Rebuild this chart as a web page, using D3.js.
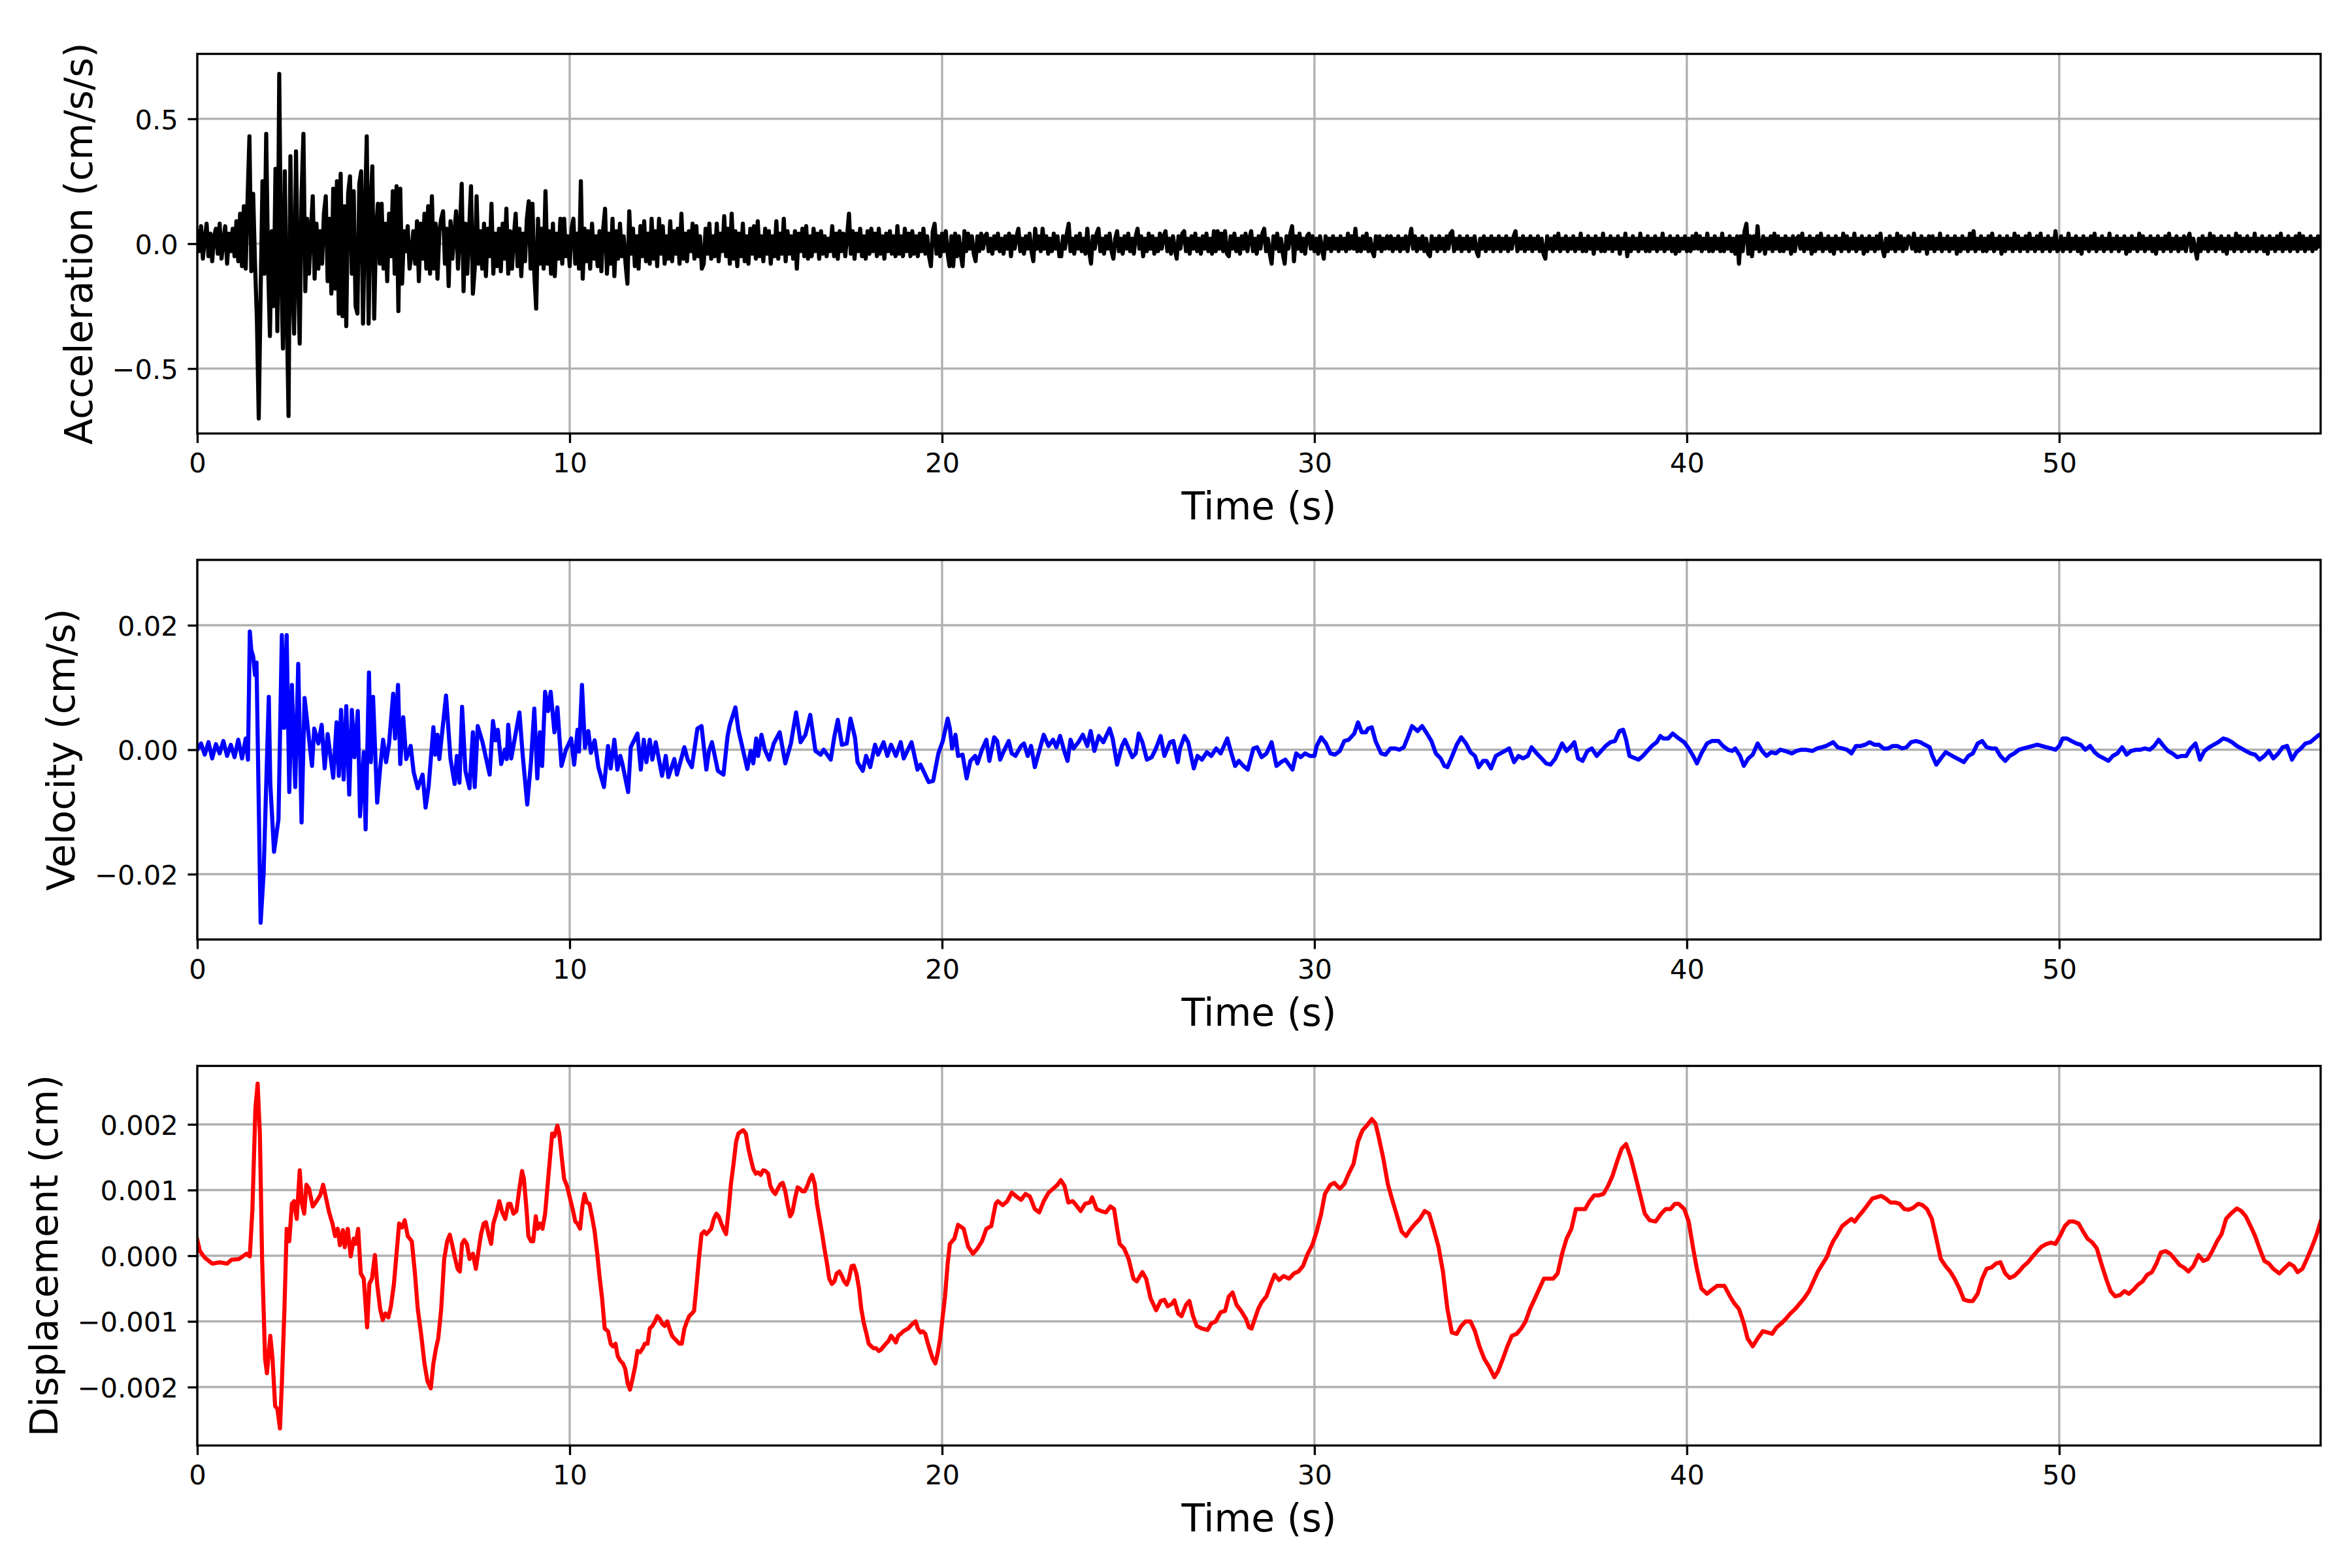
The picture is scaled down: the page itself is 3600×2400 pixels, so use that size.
<!DOCTYPE html>
<html>
<head>
<meta charset="utf-8">
<title>Acceleration, velocity and displacement records</title>
<script src="https://cdn.jsdelivr.net/npm/d3@7/dist/d3.min.js"></script>
<style>
  html, body { margin: 0; padding: 0; background: #fff; }
  svg text { font-family: "DejaVu Sans", sans-serif; fill: #000; }
</style>
</head>
<body>
<div id="chart"></div>
<script>
// ---- data ----

var X_MAX = 57.02;
var X_TICKS = [0, 10, 20, 30, 40, 50];

// acceleration, sampled every ACC_DT seconds, in units of 0.01 cm/s/s
var ACC_DT = 0.05;
var accValue = [
  5,-3,7,-6,2,8,-5,4,-7,3,6,-4,8,-6,1,7,-8,4,-3,6,
  -5,9,-7,12,-9,15,-10,18,43,-11,20,-8,-30,-70,-20,25,-12,44,-8,-37,
  5,-25,30,-35,68,-10,-42,29,-25,-69,35,-15,-36,37,-10,-40,20,44,-19,10,
  -12,5,19,-14,8,-10,5,-8,12,19,-15,10,-20,22,-18,25,-28,28,-29,15,
  -33,20,27,-12,21,-25,-28,24,29,-32,10,43,-32,15,31,-30,5,16,-8,16,
  -10,8,-15,12,-5,21,-12,23,-27,22,-16,5,-3,7,-10,-4,5,-8,9,-15,
  8,-6,12,-10,15,-12,19,-10,8,-14,5,10,13,-8,6,-17,9,-6,4,13,
  -10,5,24,-19,8,-12,6,23,-20,-10,19,-8,5,-10,8,-13,6,-5,16,-12,
  4,-9,6,-11,8,-6,14,-12,5,-10,3,12,-9,6,-13,4,-7,10,17,-10,
  16,-12,-26,10,-8,6,-10,21,-8,5,-12,8,-13,4,-6,10,-8,10,-5,3,
  -9,6,10,-8,4,-10,25,-14,6,-7,5,-10,8,-6,3,-9,5,-11,6,14,
  -12,4,-8,10,-13,5,-6,8,-5,3,-8,-16,13,-4,6,-9,3,-10,7,-5,
  9,-7,4,-8,10,-6,5,-9,10,-4,7,-8,3,-6,9,-7,5,-4,6,-8,
  12,-6,4,-7,5,-3,8,-6,7,-5,3,-10,-8,6,-4,8,-6,3,-5,8,
  -7,4,-3,11,-5,6,-8,12,-6,5,-9,4,-5,8,-7,3,-8,6,-4,7,
  -6,9,-5,3,-7,6,-4,5,-8,3,-5,9,-6,4,-4,10,-7,5,-4,3,
  -6,5,-10,4,-3,6,-5,7,-6,3,-5,6,-3,4,-6,5,-4,3,-5,2,
  -3,7,-5,4,-6,5,-3,4,-5,3,12,-4,5,-6,4,-3,6,-5,3,-6,
  5,-4,6,-3,4,-5,6,-4,3,-6,4,-3,5,-4,3,-5,7,-4,3,-5,
  6,-3,4,-5,5,-4,3,-5,4,-3,6,-4,3,-5,-9,5,8,-4,3,-5,
  4,-3,5,-4,-9,3,-9,4,-5,3,-4,-9,5,-3,4,-2,3,-4,-7,3,
  -3,4,-2,3,4,-3,2,-4,3,-2,4,-3,2,-4,3,-2,4,-5,3,-2,
  3,6,-3,2,-4,3,-2,4,-3,-7,6,-2,3,-3,6,-2,3,-4,2,-3,
  4,-2,3,-5,-5,3,-2,4,8,-3,2,-4,3,-2,4,-3,2,-4,6,-3,
  -8,3,-2,4,6,-3,2,-4,3,-2,4,-3,-6,2,5,-3,2,-4,3,-2,
  4,-3,2,-4,3,6,-2,3,-5,2,-3,4,-2,3,-4,2,-3,4,-2,3,
  5,-3,2,-4,3,-2,-6,3,-2,4,5,-3,2,-4,3,-2,4,-3,2,-4,
  3,-2,4,-3,2,-4,5,-3,5,-2,4,-3,5,-4,-5,3,-2,4,-3,2,
  -4,3,-2,4,-3,2,5,-3,2,-4,3,-2,4,6,-3,2,-4,-8,3,-2,
  4,-3,2,-4,-8,3,-2,4,7,-7,3,-2,4,-3,2,-4,3,4,-2,3,
  -3,2,-4,3,-2,-6,3,-2,2,-3,3,-2,2,-3,3,-2,2,-3,4,-2,
  3,-2,6,-3,2,-3,3,-2,4,-3,2,-3,-5,3,-2,3,-3,2,-2,3,
  -2,3,-3,2,-2,3,-3,2,-2,3,-3,2,6,-2,3,-3,2,-2,3,-3,
  2,-4,-5,3,-2,2,-3,3,-2,2,-3,3,-2,4,5,-3,2,-2,3,-3,
  2,-2,3,-3,2,-2,3,-3,-5,2,-2,3,-3,2,-2,3,-3,2,-2,3,
  -3,2,-2,3,-3,2,-2,3,5,-3,2,-2,3,-3,2,-2,3,-3,2,-2,
  3,-3,2,-4,-6,3,-2,2,-3,3,-2,4,-3,2,-2,3,-3,2,-2,3,
  -3,2,-2,4,-3,2,-3,3,-2,2,-4,3,-2,2,-3,4,-3,2,-2,3,
  -3,2,-2,3,-4,2,-2,4,-5,2,-3,3,-2,2,-3,4,-2,2,-3,3,
  -3,2,-2,3,-3,2,-2,4,-3,2,-2,3,-3,2,-4,3,-3,2,-2,3,
  -3,2,-3,3,-2,4,-2,3,-3,2,-2,4,-3,2,-3,3,-2,2,-3,4,
  -3,2,-2,3,-3,2,-4,3,-8,3,-3,5,8,-4,3,-5,3,-2,7,-3,
  -2,3,-4,2,-2,3,-3,4,-2,3,-3,2,-3,3,-2,2,-4,3,-3,2,
  3,-2,4,-3,2,-2,3,-4,2,-3,3,-2,4,-3,2,-2,3,-3,2,-4,
  3,-2,2,-3,4,-2,3,-3,2,-2,4,-3,2,-2,3,-4,2,-3,3,-2,
  2,-3,3,-2,4,-2,-5,2,-3,3,-2,2,-3,4,-2,3,-3,2,-2,3,
  2,-2,4,-3,2,-3,3,-2,2,-4,3,-2,3,-3,2,-2,4,-3,2,-2,
  3,-3,2,-2,3,-4,2,-3,3,-2,2,-3,4,-2,5,-3,2,-2,3,-3,
  2,-3,3,-2,4,-3,2,-2,3,-4,2,-3,3,-2,2,-3,4,-2,3,-3,
  2,-2,3,-3,4,-2,2,-3,3,-2,4,-3,2,-2,3,-3,2,-2,5,-3,
  -2,3,-3,2,-2,4,-3,2,-2,3,-3,2,-4,3,-2,2,-3,3,-2,4,
  -3,2,-2,3,-3,2,-2,4,-3,2,-2,3,-3,2,-2,3,-4,2,-3,3,
  -2,2,-3,4,-2,3,-3,2,-2,3,-3,2,-4,3,-2,2,-3,3,-2,4,
  -3,2,-2,3,-3,2,-2,3,-3,2,4,-3,2,-2,-6,2,-3,3,-2,2,
  -3,4,-2,3,-3,2,-2,3,-3,2,-4,3,-2,2,-3,4,-2,3,-3,2,
  -2,3,-3,2,-2,4,-3,2,-2,3,-3,2,-4,3,-2,2,-3,3,-2,4,
  -3,2,-2,3,-3,2,-2,3,-3,4,-2,3,-3,2,-2,3,-3,2,-2,3,
  -1
];
var accTicks = [-0.5, 0, 0.5];

// velocity, times in s and values in units of 0.0001 cm/s
var velTime = [
  0,0.1,0.2,0.3,0.4,0.5,0.6,0.7,0.8,0.9,
  1.0,1.1,1.2,1.3,1.36,1.41,1.45,1.5,1.55,1.59,
  1.7,1.78,1.92,1.96,2.06,2.18,2.27,2.33,2.4,2.47,
  2.54,2.63,2.71,2.8,2.88,3.08,3.14,3.25,3.34,3.42,
  3.5,3.65,3.74,3.8,3.86,3.93,4.0,4.08,4.15,4.22,
  4.31,4.37,4.47,4.52,4.61,4.66,4.72,4.83,4.91,4.99,
  5.07,5.15,5.26,5.31,5.39,5.45,5.53,5.61,5.73,5.81,
  5.92,6.05,6.13,6.21,6.34,6.39,6.45,6.5,6.68,6.8,
  6.91,6.97,7.04,7.11,7.2,7.31,7.4,7.45,7.53,7.66,
  7.85,7.94,8.01,8.07,8.16,8.26,8.31,8.35,8.43,8.49,
  8.65,8.74,8.86,8.96,9.05,9.13,9.2,9.26,9.34,9.42,
  9.49,9.59,9.67,9.78,9.9,10.04,10.12,10.21,10.25,10.33,
  10.41,10.5,10.57,10.67,10.77,10.92,11.03,11.1,11.2,11.28,
  11.36,11.42,11.57,11.64,11.82,11.91,11.99,12.06,12.15,12.22,
  12.31,12.48,12.58,12.65,12.81,12.88,13.08,13.17,13.28,13.43,
  13.54,13.67,13.74,13.82,13.98,14.13,14.24,14.3,14.45,14.53,
  14.77,14.86,14.93,15.01,15.06,15.15,15.24,15.36,15.48,15.64,
  15.79,15.94,16.08,16.2,16.33,16.46,16.6,16.74,16.82,17.01,
  17.11,17.2,17.31,17.44,17.54,17.66,17.73,17.87,17.96,18.07,
  18.2,18.28,18.43,18.53,18.63,18.76,18.89,18.97,19.18,19.34,
  19.42,19.64,19.76,19.9,20.02,20.15,20.21,20.27,20.36,20.43,
  20.55,20.66,20.76,20.89,20.95,21.07,21.19,21.27,21.4,21.48,
  21.56,21.63,21.79,21.87,21.97,22.12,22.2,22.3,22.39,22.49,
  22.61,22.73,22.86,22.98,23.07,23.17,23.29,23.37,23.45,23.53,
  23.66,23.78,23.9,23.99,24.09,24.21,24.33,24.5,24.58,24.7,
  24.83,24.91,25.01,25.11,25.2,25.28,25.38,25.5,25.63,25.73,
  25.87,25.97,26.12,26.21,26.33,26.39,26.51,26.61,26.76,26.86,
  26.98,27.11,27.23,27.36,27.48,27.66,27.75,27.87,27.97,28.09,
  28.21,28.36,28.46,28.58,28.71,28.85,28.98,29.1,29.22,29.41,
  29.51,29.63,29.75,29.88,30.0,30.06,30.18,30.31,30.43,30.55,
  30.68,30.8,30.92,31.07,31.17,31.27,31.38,31.44,31.54,31.64,
  31.79,31.91,32.04,32.16,32.28,32.4,32.52,32.62,32.77,32.89,
  33.02,33.14,33.26,33.39,33.49,33.57,33.7,33.82,33.94,34.07,
  34.19,34.31,34.41,34.53,34.62,34.74,34.87,34.99,35.11,35.23,
  35.36,35.48,35.6,35.73,35.83,35.97,36.1,36.22,36.34,36.47,
  36.65,36.77,36.9,36.98,37.08,37.2,37.33,37.45,37.58,37.7,
  37.82,37.95,38.07,38.19,38.29,38.37,38.46,38.62,38.7,38.82,
  38.94,39.06,39.19,39.29,39.37,39.5,39.62,39.74,39.93,40.05,
  40.17,40.27,40.39,40.54,40.67,40.85,40.97,41.1,41.22,41.3,
  41.43,41.53,41.65,41.77,41.9,42.02,42.14,42.27,42.39,42.51,
  42.64,42.82,42.94,43.07,43.19,43.37,43.5,43.62,43.74,43.93,
  44.05,44.17,44.3,44.42,44.54,44.67,44.79,44.91,45.04,45.16,
  45.28,45.41,45.53,45.65,45.78,45.9,46.02,46.15,46.27,46.39,
  46.52,46.58,46.7,46.82,46.95,47.07,47.19,47.32,47.44,47.56,
  47.68,47.81,47.93,48.05,48.18,48.3,48.42,48.55,48.67,48.79,
  48.92,49.04,49.16,49.29,49.41,49.53,49.66,49.78,49.9,50.0,
  50.09,50.21,50.33,50.46,50.58,50.7,50.83,50.95,51.07,51.2,
  51.32,51.44,51.56,51.69,51.81,51.93,52.06,52.18,52.3,52.43,
  52.55,52.67,52.8,52.92,53.04,53.17,53.29,53.41,53.53,53.66,
  53.78,53.9,54.03,54.15,54.27,54.4,54.52,54.64,54.77,54.89,
  55.01,55.14,55.26,55.38,55.51,55.63,55.75,55.88,56.0,56.12,
  56.25,56.37,56.49,56.61,56.74,56.86,56.98,57.02
];
var velValue = [
  0,10,-8,12,-14,9,-6,14,-10,8,
  -12,16,-14,18,-16,190,160,150,120,140,
  -278,-200,85,-54,-164,-112,184,35,184,-68,
  104,-60,138,-117,83,-26,34,10,40,-30,
  25,-45,44,-42,64,-48,70,-72,64,-12,
  62,-107,-4,-128,124,-20,85,-85,-30,16,
  -20,10,90,18,104,-23,52,-15,6,-36,
  -62,-40,-93,-60,36,-8,24,-15,87,-15,
  -55,-10,-53,69,-34,-62,28,-60,38,12,
  -40,46,15,32,-23,0,-15,40,-14,6,
  60,-10,-88,-20,66,-46,28,-26,93,62,
  93,28,68,-26,0,18,-24,32,-3,104,
  3,30,-5,15,-28,-60,6,-30,16,-32,
  -10,-24,-68,4,26,-32,16,-20,16,-16,
  12,-42,-10,-44,-15,-40,4,-16,-28,34,
  38,-32,-2,12,-34,-40,22,40,68,32,
  -31,-2,-22,18,-10,24,0,-16,10,28,
  -22,10,60,12,24,56,-2,-8,0,-16,
  22,48,8,10,50,20,-20,-34,-10,-28,
  8,-8,12,-10,8,-10,12,-14,12,-32,
  -24,-52,-50,-6,14,50,34,2,24,-10,
  -8,-46,-18,-10,-22,0,16,-18,20,14,
  -16,-6,14,-6,-10,6,10,-10,6,-28,
  -2,24,6,16,4,22,-4,-18,16,2,
  12,24,6,30,-2,22,12,34,18,-24,
  6,16,2,-12,-6,26,12,-16,-12,0,
  22,-10,12,14,-20,2,22,12,-30,-10,
  -16,-4,-10,2,-6,18,-2,-26,-18,-26,
  -32,2,4,-12,-6,12,-26,-20,-16,-32,
  -6,-12,-6,-10,-10,6,20,10,-6,-8,
  -2,14,16,26,44,28,28,34,36,14,
  -6,-8,2,2,0,4,22,38,30,38,
  26,14,-6,-14,-26,-28,-10,8,20,10,
  -4,-10,-28,-18,-18,-30,-10,-6,-2,2,
  -20,-10,-14,-10,4,-6,-14,-22,-24,-14,
  10,-2,6,12,-14,-18,-2,2,-10,-2,
  6,12,14,30,32,16,-10,-14,-16,-10,
  -2,6,12,22,18,18,26,20,12,2,
  -10,-22,-6,10,14,14,6,0,-2,2,
  -10,-26,-14,-8,10,-2,-10,-4,-6,0,
  -2,-6,-2,0,0,-2,2,4,6,12,
  4,2,0,-6,6,6,8,12,8,8,
  2,2,6,6,2,4,12,14,12,8,
  4,-8,-24,-14,-4,-8,-12,-16,-20,-10,
  -6,10,14,4,2,2,-10,-18,-10,-6,
  0,2,4,6,8,6,4,2,0,6,
  18,18,14,10,8,0,6,-4,-10,-14,
  -18,-10,-6,4,-8,-2,0,0,2,0,
  6,16,6,-2,-6,-12,-10,-10,2,10,
  -16,-2,4,8,12,18,16,12,6,2,
  -2,-6,-8,-16,-10,-2,-14,-6,4,6,
  -16,-4,2,10,12,18,24,24
];
var velTicks = [-0.02, 0, 0.02];

// displacement, times in s and values in units of 0.00001 cm
var dispTime = [
  0,0.07,0.2,0.4,0.6,0.8,0.92,1.12,1.32,1.41,
  1.48,1.56,1.62,1.68,1.74,1.82,1.87,1.96,2.02,2.09,
  2.15,2.22,2.27,2.34,2.4,2.47,2.54,2.6,2.67,2.75,
  2.81,2.87,2.93,3.0,3.1,3.2,3.3,3.38,3.46,3.54,
  3.63,3.7,3.77,3.83,3.91,3.96,4.04,4.12,4.2,4.25,
  4.32,4.39,4.47,4.56,4.62,4.69,4.77,4.83,4.91,4.98,
  5.05,5.13,5.2,5.28,5.35,5.42,5.5,5.57,5.65,5.76,
  5.84,5.92,6.01,6.1,6.18,6.27,6.34,6.41,6.47,6.55,
  6.63,6.71,6.78,6.84,6.91,6.99,7.05,7.11,7.17,7.24,
  7.31,7.4,7.48,7.56,7.62,7.69,7.75,7.82,7.89,7.95,
  8.03,8.11,8.19,8.27,8.35,8.41,8.49,8.57,8.64,8.72,
  8.77,8.84,8.89,8.96,9.02,9.09,9.14,9.21,9.27,9.34,
  9.41,9.47,9.53,9.59,9.67,9.72,9.79,9.85,9.93,10.01,
  10.08,10.15,10.21,10.28,10.34,10.4,10.46,10.53,10.61,10.67,
  10.74,10.8,10.87,10.94,11.03,11.1,11.16,11.23,11.29,11.36,
  11.43,11.49,11.56,11.62,11.69,11.76,11.82,11.89,11.96,12.02,
  12.09,12.15,12.22,12.29,12.35,12.42,12.48,12.55,12.62,12.68,
  12.75,12.81,12.88,12.95,13.01,13.08,13.15,13.21,13.28,13.34,
  13.41,13.47,13.54,13.61,13.67,13.74,13.8,13.87,13.94,14.0,
  14.07,14.13,14.2,14.27,14.33,14.4,14.47,14.53,14.6,14.66,
  14.73,14.8,14.86,14.93,15.0,15.06,15.13,15.19,15.26,15.33,
  15.39,15.46,15.52,15.59,15.66,15.72,15.79,15.85,15.92,15.98,
  16.05,16.12,16.18,16.25,16.31,16.38,16.45,16.51,16.58,16.64,
  16.71,16.78,16.84,16.91,16.97,17.04,17.11,17.17,17.24,17.31,
  17.37,17.44,17.5,17.57,17.63,17.7,17.77,17.83,17.9,17.97,
  18.03,18.1,18.16,18.23,18.3,18.36,18.43,18.49,18.56,18.63,
  18.69,18.76,18.82,18.89,18.96,19.02,19.09,19.15,19.22,19.29,
  19.35,19.42,19.48,19.55,19.62,19.68,19.75,19.82,19.88,19.95,
  20.01,20.08,20.15,20.21,20.33,20.43,20.58,20.7,20.83,20.95,
  21.07,21.19,21.32,21.44,21.5,21.63,21.75,21.87,22.0,22.12,
  22.24,22.36,22.49,22.61,22.73,22.86,22.98,23.1,23.19,23.29,
  23.39,23.51,23.6,23.72,23.84,23.97,24.03,24.15,24.27,24.4,
  24.52,24.62,24.7,24.77,24.89,25.01,25.14,25.23,25.38,25.48,
  25.6,25.75,25.87,25.97,26.06,26.18,26.24,26.34,26.43,26.55,
  26.64,26.74,26.84,26.98,27.13,27.23,27.35,27.48,27.6,27.7,
  27.8,27.91,28.03,28.16,28.24,28.31,28.4,28.49,28.58,28.71,
  28.83,28.93,29.05,29.17,29.32,29.45,29.57,29.69,29.82,29.94,
  30.06,30.18,30.28,30.43,30.53,30.68,30.8,30.92,31.05,31.17,
  31.29,31.42,31.54,31.64,31.72,31.85,31.97,32.1,32.22,32.34,
  32.46,32.59,32.71,32.83,32.96,33.08,33.2,33.33,33.45,33.57,
  33.69,33.82,33.94,34.06,34.19,34.31,34.43,34.56,34.68,34.83,
  34.93,35.06,35.18,35.3,35.43,35.55,35.67,35.79,35.92,36.04,
  36.16,36.29,36.41,36.53,36.65,36.77,36.9,37.02,37.14,37.27,
  37.39,37.51,37.64,37.76,37.88,38.0,38.13,38.25,38.37,38.5,
  38.62,38.74,38.87,39.0,39.16,39.31,39.43,39.56,39.68,39.78,
  39.93,40.05,40.17,40.27,40.39,40.54,40.67,40.81,41.01,41.16,
  41.28,41.4,41.53,41.63,41.77,41.9,42.04,42.17,42.29,42.41,
  42.54,42.66,42.78,42.91,43.03,43.15,43.28,43.4,43.52,43.65,
  43.77,43.84,43.93,44.05,44.17,44.3,44.42,44.51,44.61,44.73,
  44.85,44.98,45.1,45.22,45.34,45.47,45.59,45.71,45.84,45.96,
  46.08,46.21,46.33,46.45,46.58,46.7,46.82,46.95,47.07,47.19,
  47.32,47.44,47.56,47.68,47.81,47.93,48.05,48.18,48.3,48.42,
  48.55,48.67,48.79,48.92,49.04,49.16,49.29,49.41,49.53,49.66,
  49.78,49.9,50.02,50.15,50.27,50.39,50.52,50.64,50.76,50.89,
  51.01,51.13,51.26,51.38,51.5,51.63,51.75,51.87,51.99,52.12,
  52.24,52.36,52.49,52.61,52.73,52.86,52.98,53.1,53.23,53.35,
  53.47,53.6,53.74,53.87,53.99,54.11,54.24,54.36,54.48,54.61,
  54.77,54.89,55.01,55.14,55.26,55.38,55.51,55.63,55.75,55.91,
  56.03,56.18,56.3,56.4,56.53,56.65,56.77,56.9,57.02
];
var dispValue = [
  24,7,-3,-12,-10,-12,-6,-5,3,-1,
  71,224,262,186,-5,-157,-179,-122,-157,-229,
  -233,-263,-195,-81,41,22,79,83,56,130,
  79,64,108,102,75,83,92,108,87,66,
  49,30,41,16,39,13,41,-1,26,18,
  41,-27,-35,-109,-43,-35,1,-43,-81,-98,
  -88,-94,-77,-43,3,49,43,54,30,22,
  -24,-81,-119,-164,-191,-202,-164,-141,-126,-81,
  -5,22,32,18,-1,-20,-24,18,24,18,
  -5,3,-20,11,33,49,51,33,18,49,
  64,83,66,56,79,79,64,68,98,129,
  117,71,30,22,22,60,41,49,41,64,
  109,148,186,182,198,186,148,117,106,87,
  71,52,49,41,75,94,81,79,56,37,
  3,-31,-65,-111,-115,-134,-138,-134,-153,-160,
  -164,-172,-195,-204,-187,-168,-145,-147,-141,-134,
  -134,-111,-107,-100,-92,-96,-103,-107,-100,-111,
  -122,-126,-130,-134,-134,-111,-100,-92,-88,-84,
  -43,-5,33,37,33,37,41,56,64,60,
  49,41,33,71,109,140,174,186,189,191,
  186,163,148,132,125,127,123,130,129,125,
  106,98,94,102,109,111,98,79,60,66,
  87,104,102,98,98,106,117,123,109,79,
  56,33,11,-12,-35,-43,-39,-27,-24,-31,
  -39,-44,-35,-16,-15,-27,-50,-81,-103,-119,
  -134,-138,-141,-141,-145,-143,-138,-134,-130,-122,
  -126,-132,-122,-119,-115,-113,-111,-107,-103,-100,
  -111,-117,-115,-119,-134,-145,-157,-164,-149,-126,
  -96,-62,-12,18,26,47,41,14,3,11,
  22,41,45,79,83,77,83,96,90,85,
  94,90,71,66,83,96,102,108,115,106,
  81,83,77,68,79,81,89,71,68,66,
  75,71,41,18,11,-5,-35,-39,-25,-35,
  -65,-83,-69,-67,-77,-73,-68,-88,-92,-75,
  -69,-92,-107,-111,-113,-103,-100,-86,-84,-62,
  -56,-75,-84,-96,-109,-111,-96,-81,-71,-62,
  -43,-29,-37,-31,-35,-27,-24,-16,3,16,
  37,64,94,108,111,102,109,125,140,174,
  191,199,208,201,182,148,109,83,60,37,
  30,41,49,56,68,64,41,14,-24,-81,
  -117,-119,-107,-100,-100,-115,-138,-157,-168,-185,
  -176,-157,-138,-122,-119,-111,-100,-81,-65,-50,
  -35,-35,-35,-27,3,26,41,71,71,71,
  83,92,92,94,106,121,144,163,170,148,
  121,94,64,54,52,64,71,71,79,79,
  71,52,11,-20,-50,-58,-52,-46,-46,-62,
  -73,-81,-103,-126,-138,-126,-115,-117,-119,-109,
  -103,-96,-88,-81,-73,-65,-54,-39,-24,-12,
  -1,11,22,33,45,51,56,52,60,68,
  77,87,89,91,87,81,81,79,71,70,
  73,79,77,71,56,26,-5,-16,-24,-35,
  -50,-67,-69,-69,-58,-35,-20,-18,-12,-10,
  -27,-34,-31,-24,-16,-10,-1,7,14,18,
  20,18,30,45,52,52,49,37,26,20,
  11,-12,-35,-54,-62,-60,-54,-58,-52,-44,
  -39,-29,-25,-12,5,7,3,-5,-14,-18,
  -24,-16,1,-8,-5,7,22,33,56,64,
  72,68,60,45,30,11,-8,-12,-20,-27,
  -20,-12,-16,-25,-20,-5,11,30,52
];
var dispTicks = [-0.002, -0.001, 0, 0.001, 0.002];

// ---- drawing ----
(function () {
  "use strict";

  var W = 3600, H = 2400;
  var PX = 300 / 72;               // figure was rendered at 300 dpi
  var LEFT = 302, RIGHT = 3552, AX_H = 581;
  var TOPS = [82.5, 857, 1631.5];

  var accTime = accValue.map(function (_, i) { return i * ACC_DT; });

  var panels = [
    { t: accTime, v: accValue, unit: 1e-2, lim: 0.76, ticks: accTicks, fmt: ".1f",
      color: "#000000", label: "Acceleration (cm/s/s)" },
    { t: velTime, v: velValue, unit: 1e-4, lim: 0.0305, ticks: velTicks, fmt: ".2f",
      color: "#0000ff", label: "Velocity (cm/s)" },
    { t: dispTime, v: dispValue, unit: 1e-5, lim: 0.00289, ticks: dispTicks, fmt: ".3f",
      color: "#ff0000", label: "Displacement (cm)" }
  ];

  var x = d3.scaleLinear().domain([0, X_MAX]).range([LEFT, RIGHT]);

  var svg = d3.select("#chart").append("svg")
    .attr("width", W)
    .attr("height", H)
    .attr("viewBox", [0, 0, W, H]);

  svg.append("rect").attr("width", W).attr("height", H).attr("fill", "#ffffff");

  panels.forEach(function (p, i) { drawPanel(p, TOPS[i], i); });

  function drawPanel(p, top, i) {
    var bottom = top + AX_H;
    var y = d3.scaleLinear().domain([-p.lim, p.lim]).range([bottom, top]);
    var g = svg.append("g").attr("class", "panel");

    g.append("clipPath").attr("id", "clip" + i)
      .append("rect")
      .attr("x", LEFT).attr("y", top)
      .attr("width", RIGHT - LEFT).attr("height", AX_H);

    // grid below the trace
    var grid = g.append("g")
      .attr("stroke", "#b0b0b0")
      .attr("stroke-width", 0.8 * PX)
      .attr("stroke-linecap", "square");
    grid.selectAll("line.gx").data(X_TICKS).join("line")
      .attr("class", "gx")
      .attr("x1", x).attr("x2", x)
      .attr("y1", top).attr("y2", bottom);
    grid.selectAll("line.gy").data(p.ticks).join("line")
      .attr("class", "gy")
      .attr("x1", LEFT).attr("x2", RIGHT)
      .attr("y1", y).attr("y2", y);

    var n = Math.min(p.t.length, p.v.length);
    var pts = d3.range(n).map(function (k) { return [p.t[k], p.v[k] * p.unit]; });

    g.append("path")
      .datum(pts)
      .attr("clip-path", "url(#clip" + i + ")")
      .attr("fill", "none")
      .attr("stroke", p.color)
      .attr("stroke-width", 1.5 * PX)
      .attr("stroke-linejoin", "round")
      .attr("stroke-linecap", "square")
      .attr("d", d3.line()
        .x(function (d) { return x(d[0]); })
        .y(function (d) { return y(d[1]); }));

    // axes frame (spines)
    g.append("rect")
      .attr("x", LEFT).attr("y", top)
      .attr("width", RIGHT - LEFT).attr("height", AX_H)
      .attr("fill", "none")
      .attr("stroke", "#000")
      .attr("stroke-width", 0.8 * PX);

    var xAxis = g.append("g")
      .attr("transform", "translate(0," + bottom + ")")
      .call(d3.axisBottom(x)
        .tickValues(X_TICKS)
        .tickFormat(d3.format("d"))
        .tickSize(3.5 * PX)
        .tickPadding(3.5 * PX)
        .tickSizeOuter(0));

    var yAxis = g.append("g")
      .attr("transform", "translate(" + LEFT + ",0)")
      .call(d3.axisLeft(y)
        .tickValues(p.ticks)
        .tickFormat(d3.format(p.fmt))
        .tickSize(3.5 * PX)
        .tickPadding(3.5 * PX)
        .tickSizeOuter(0));

    [xAxis, yAxis].forEach(function (a) {
      a.attr("font-family", "DejaVu Sans, sans-serif").attr("font-size", 10 * PX);
      a.select(".domain").remove();
      a.selectAll(".tick line").attr("stroke", "#000").attr("stroke-width", 0.8 * PX);
      a.selectAll(".tick text").attr("fill", "#000");
    });
    xAxis.selectAll(".tick text").attr("dy", "0.73em");
    yAxis.selectAll(".tick text").attr("dy", "0.365em");

    // x label
    g.append("text")
      .attr("x", (LEFT + RIGHT) / 2)
      .attr("y", bottom + 131.6)
      .attr("text-anchor", "middle")
      .attr("font-size", 14 * PX)
      .text("Time (s)");

    // y label sits left of the widest tick label
    var minX = d3.min(yAxis.selectAll(".tick text").nodes(), function (nd) {
      return nd.getBBox().x;
    });
    var lx = LEFT + minX - 31;
    g.append("text")
      .attr("transform", "translate(" + lx + "," + (top + AX_H / 2) + ") rotate(-90)")
      .attr("text-anchor", "middle")
      .attr("font-size", 14 * PX)
      .text(p.label);
  }
})();
</script>
</body>
</html>
